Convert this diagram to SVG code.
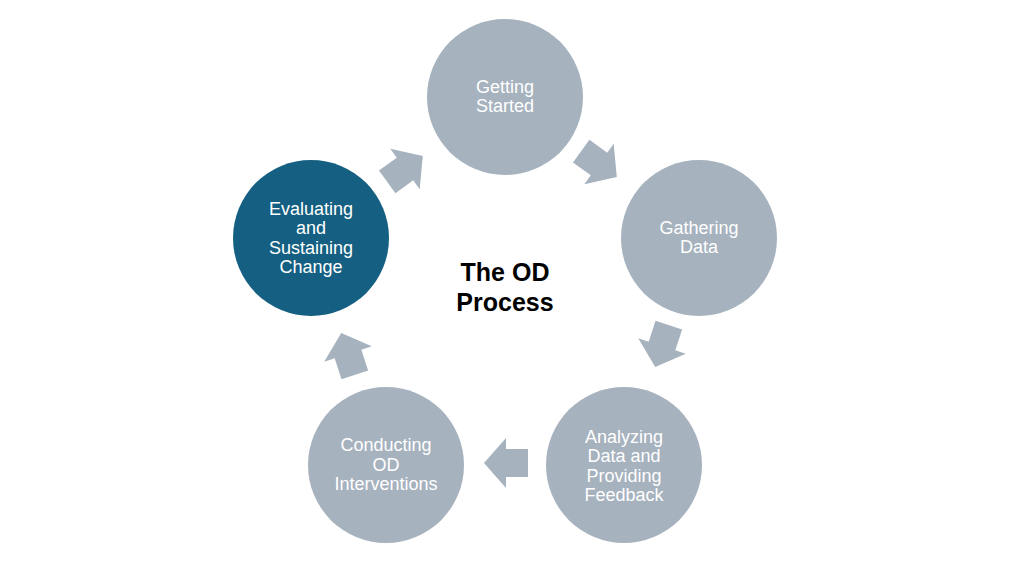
<svg xmlns="http://www.w3.org/2000/svg" width="1024" height="576" viewBox="0 0 1024 576">
<defs>
<style>
.n{fill:#a6b2be}
.d{fill:#145f82}
.t{fill:#ffffff;font-family:"Liberation Sans",Arial,sans-serif;font-size:18px;text-anchor:middle}
.a{fill:#a6b2be}
.c{fill:#000000;font-family:"Liberation Sans",Arial,sans-serif;font-size:25px;font-weight:bold;text-anchor:middle}
</style>
<polygon id="arr" points="-22,-14 0,-14 0,-25 22,0 0,25 0,14 -22,14"/>
</defs>
<rect width="1024" height="576" fill="#ffffff"/>
<g id="connectors" class="a">
<use href="#arr" transform="translate(405,169) rotate(-36)"/>
<use href="#arr" transform="translate(599,164) rotate(36)"/>
<use href="#arr" transform="translate(662,346) rotate(108)"/>
<use href="#arr" transform="translate(506,463) rotate(180)"/>
<use href="#arr" transform="translate(348,354) rotate(252)"/>
</g>
<g id="getting-started">
<circle class="n" cx="505" cy="97" r="78"/>
<text class="t" x="505" y="93">Getting</text>
<text class="t" x="505" y="112">Started</text>
</g>
<g id="gathering-data">
<circle class="n" cx="699" cy="238" r="78"/>
<text class="t" x="699" y="234">Gathering</text>
<text class="t" x="699" y="253">Data</text>
</g>
<g id="analyzing-data">
<circle class="n" cx="624" cy="465" r="78"/>
<text class="t" x="624" y="443">Analyzing</text>
<text class="t" x="624" y="462">Data and</text>
<text class="t" x="624" y="482">Providing</text>
<text class="t" x="624" y="501">Feedback</text>
</g>
<g id="conducting-od">
<circle class="n" cx="386" cy="465" r="78"/>
<text class="t" x="386" y="451">Conducting</text>
<text class="t" x="386" y="471">OD</text>
<text class="t" x="386" y="490">Interventions</text>
</g>
<g id="evaluating">
<circle class="d" cx="311" cy="238" r="78"/>
<text class="t" x="311" y="215">Evaluating</text>
<text class="t" x="311" y="234">and</text>
<text class="t" x="311" y="254">Sustaining</text>
<text class="t" x="311" y="273">Change</text>
</g>
<g id="center-title">
<text class="c" x="505" y="281">The OD</text>
<text class="c" x="505" y="311">Process</text>
</g>
</svg>
